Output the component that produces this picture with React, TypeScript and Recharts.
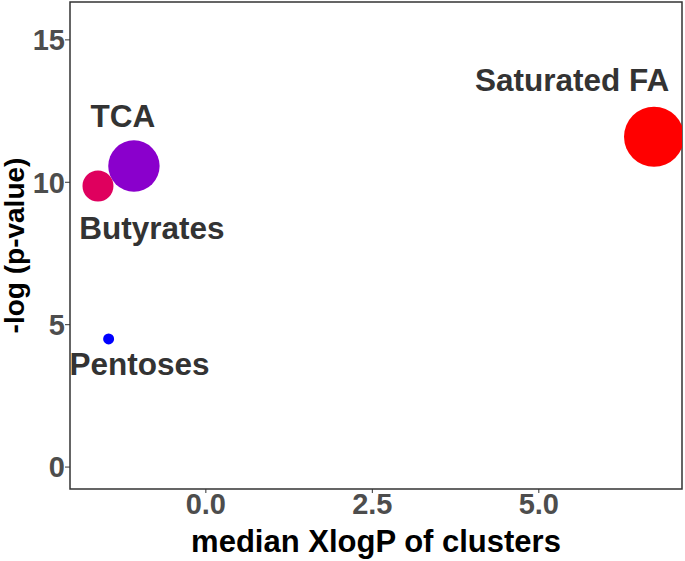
import { ScatterChart, Scatter, XAxis, YAxis, ZAxis, ReferenceArea, Label } from "recharts";

// clusters and their stats
const clusters = ["Saturated FA", "TCA", "Butyrates", "Pentoses"];
const medianXlogP = [6.73, -1.08, -1.62, -1.46];
const negLogP = [11.6, 10.57, 9.87, 4.5];
const clusterSize = [30, 22, 8, 1];

const xTicks = [0, 2.5, 5];
const yTicks = [0, 5, 10, 15];

// styling only
const COLORS: Record<string, string> = {
  "Saturated FA": "#ff0000",
  TCA: "#8a00cc",
  Butyrates: "#df005e",
  Pentoses: "#0000ff",
};
// label placement relative to bubble centre (like ggrepel did it)
const LABEL_OFFSET: Record<string, [number, number]> = {
  "Saturated FA": [-82, -46],
  TCA: [-11, -39],
  Butyrates: [54, 53],
  Pentoses: [31, 36],
};

const FONT = "'Liberation Sans', Arial, sans-serif";
const X_DOMAIN: [number, number] = [-2.04, 7.15];
const Y_DOMAIN: [number, number] = [-0.77, 16.33];

const chartData = clusters.map((name, i) => ({
  name,
  x: medianXlogP[i],
  y: negLogP[i],
  z: clusterSize[i],
}));

const Bubble = (props: any) => {
  const { cx, cy, width, payload } = props;
  return <circle cx={cx} cy={cy} r={width / 2} fill={COLORS[payload.name]} />;
};

const BubbleLabel = (props: any) => {
  const { cx, cy, payload } = props;
  const [dx, dy] = LABEL_OFFSET[payload.name];
  return (
    <text
      x={cx + dx}
      y={cy + dy}
      textAnchor="middle"
      fontFamily={FONT}
      fontWeight="bold"
      fontSize={31.5}
      fill="#333333"
    >
      {payload.name}
    </text>
  );
};

export default function App() {
  return (
    <div style={{ position: "absolute", left: 0, top: 0, background: "#fff" }}>
      <ScatterChart width={685} height={561} margin={{ top: 2, right: 3, left: 0, bottom: 0 }}>
        <XAxis
          type="number"
          dataKey="x"
          domain={X_DOMAIN}
          ticks={xTicks}
          allowDataOverflow
          height={72}
          axisLine={false}
          tickSize={4}
          tickMargin={0}
          tickLine={{ stroke: "#333333" }}
          tickFormatter={(v: number) => v.toFixed(1)}
          tick={{ fill: "#4d4d4d", fontSize: 29, fontWeight: "bold", fontFamily: FONT }}
        >
          <Label
            content={(p: any) => {
              const vb = p.viewBox || { x: 70, y: 489, width: 612, height: 72 };
              return (
                <text
                  x={vb.x + vb.width / 2}
                  y={vb.y + 63}
                  textAnchor="middle"
                  fontFamily={FONT}
                  fontWeight="bold"
                  fontSize={31}
                  fill="#000"
                >
                  median XlogP of clusters
                </text>
              );
            }}
          />
        </XAxis>
        <YAxis
          type="number"
          dataKey="y"
          domain={Y_DOMAIN}
          ticks={yTicks}
          allowDataOverflow
          width={70}
          axisLine={false}
          tickSize={5}
          tickMargin={0}
          tickLine={{ stroke: "#333333" }}
          tick={{ fill: "#4d4d4d", fontSize: 29, fontWeight: "bold", fontFamily: FONT }}
        >
          <Label
            content={(p: any) => {
              const vb = p.viewBox || { x: 0, y: 2, width: 70, height: 487 };
              const cx = vb.x + 24;
              const cy = vb.y + vb.height / 2;
              return (
                <text
                  x={cx}
                  y={cy}
                  textAnchor="middle"
                  transform={`rotate(-90, ${cx}, ${cy})`}
                  fontFamily={FONT}
                  fontWeight="bold"
                  fontSize={28}
                  fill="#000"
                >
                  -log (p-value)
                </text>
              );
            }}
          />
        </YAxis>
        <ZAxis type="number" dataKey="z" domain={[0, 30]} range={[0, 900 * Math.PI]} />
        <Scatter data={chartData} shape={<Bubble />} isAnimationActive={false} />
        <Scatter data={chartData} shape={<BubbleLabel />} isAnimationActive={false} />
        <ReferenceArea
          x1={X_DOMAIN[0]}
          x2={X_DOMAIN[1]}
          y1={Y_DOMAIN[0]}
          y2={Y_DOMAIN[1]}
          fill="none"
          stroke="#333333"
          strokeWidth={1.5}
          ifOverflow="visible"
        />
      </ScatterChart>
    </div>
  );
}
